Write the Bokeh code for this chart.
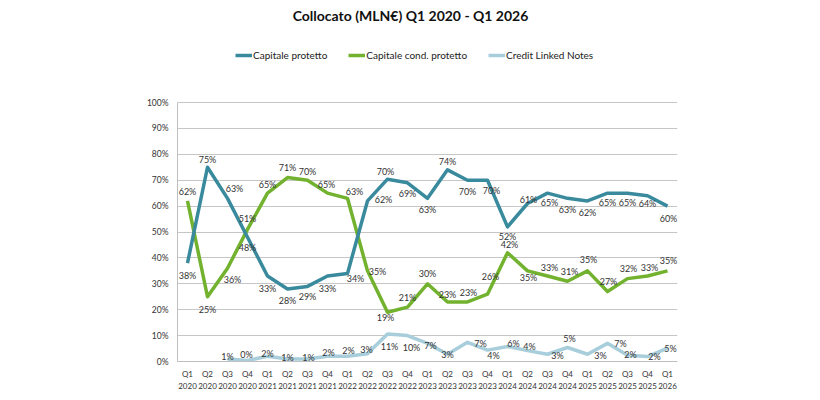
from bokeh.plotting import figure
from bokeh.models import (ColumnDataSource, FactorRange, Range1d, FixedTicker,
                          PrintfTickFormatter, Legend, LegendItem, Label)
from bokeh.core.properties import value
from bokeh.embed import file_html
from bokeh.resources import INLINE

quarters = ["Q1\n2020", "Q2\n2020", "Q3\n2020", "Q4\n2020",
            "Q1\n2021", "Q2\n2021", "Q3\n2021", "Q4\n2021",
            "Q1\n2022", "Q2\n2022", "Q3\n2022", "Q4\n2022",
            "Q1\n2023", "Q2\n2023", "Q3\n2023", "Q4\n2023",
            "Q1\n2024", "Q2\n2024", "Q3\n2024", "Q4\n2024",
            "Q1\n2025", "Q2\n2025", "Q3\n2025", "Q4\n2025",
            "Q1\n2026"]

capitale_protetto = [38, 75, 63, 48, 33, 28, 29, 33, 34, 62, 70.4, 69, 63,
                     74, 70, 70, 52, 61, 65, 63, 62, 65, 65, 64, 60]
capitale_cond_protetto = [62, 25, 36, 51, 65, 71, 70, 65, 63, 35, 19, 21, 30,
                          23, 23, 26, 42, 35, 33, 31, 35, 27, 32, 33, 35]
cln_quarters = quarters[2:]
credit_linked_notes = [1, 0.4, 2, 1, 1, 2, 2, 3, 10.6, 10, 7, 2.8, 7.4, 4.4,
                       5.8, 4.2, 2.8, 5.4, 2.8, 7, 2.4, 1.9, 5.2]

y_ticks = list(range(0, 101, 10))

# label placement (screen px offsets: dx, dy; dy positive = down)
cp_dx = [0, 0, 7, 0, 0, 0, 0, 0, 8, 16, -2, 0, 0, 0, 0, 4, 0, 1, 2, 0, 0, 0, 0, 0, 1]
cp_dy = [12, -8, -10, 10, 12, 12, 10, 12, 5, -1, -8, 11, 11, -8, 11, 10, 10, -4, 9, 11, 12, 9, 9, 8, 12]
cc_dx = [0, 0, 5, 0, 0, 0, 0, -1, 7, 10, -2, 0, 0, 0, 1, 3, 2, 1, 2, 2, 1, 1, 1, 2, 1]
cc_dy = [-9, 13, 11, -11, -9, -10, -9, -9, -7, 1, 5, -10, -10, -7, -9, -18, -8, 7, -9, -10, -11, -10, -10, -9, -10]
cl_dx = [0, -1, 0, 0, 1, 1, 1, -1, 2, 4, 3, 0, 13, 6, 6, 2, 10, 2, 13, 13, 3, 7, 3]
cl_dy = [-2, -6, -3, -1, -1, -4, -6, -4, 12, 12, 2, 0, 1, 5, -3, -4, 1, -9, 1, 0, -1, 0, 0]

BLUE = "#3A8A9E"
GREEN = "#72B22F"
LIGHT = "#A8CEDB"
FONT = "Lato"
TXT = "#333333"

# frame extends above 100% to host title and legend; axis/grid limited to 0-100
p = figure(frame_width=500, frame_height=361, output_backend="svg", toolbar_location=None,
           x_range=FactorRange(factors=quarters, range_padding=0),
           y_range=Range1d(0, 361 / 2.59),
           min_border_left=177, min_border_right=135,
           min_border_top=0, min_border_bottom=31)
p.outline_line_color = None
p.background_fill_color = "white"
p.border_fill_color = "white"

p.yaxis.ticker = FixedTicker(ticks=y_ticks)
p.yaxis.bounds = (0, 100)
p.yaxis.formatter = PrintfTickFormatter(format="%d%%")
p.yaxis.major_tick_line_color = None
p.yaxis.minor_tick_line_color = None
p.yaxis.major_tick_out = 0
p.yaxis.major_tick_in = 0
p.yaxis.minor_tick_out = 0
p.yaxis.axis_line_color = "#BFBFBF"
p.yaxis.major_label_text_font = FONT
p.yaxis.major_label_text_font_size = "8.5px"
p.yaxis.major_label_text_color = TXT
p.yaxis.major_label_standoff = 9

p.xaxis.major_tick_line_color = None
p.xaxis.minor_tick_line_color = None
p.xaxis.major_tick_out = 0
p.xaxis.major_tick_in = 0
p.xaxis.minor_tick_out = 0
p.xaxis.axis_line_color = "#BFBFBF"
p.xaxis.major_label_text_font = FONT
p.xaxis.major_label_text_font_size = "8px"
p.xaxis.major_label_text_color = TXT
p.xaxis.major_label_standoff = 7
p.xaxis.major_label_text_line_height = 1.2

p.xgrid.grid_line_color = None
p.ygrid.grid_line_color = "#C6C6C6"
p.ygrid.grid_line_width = 1

src_cp = ColumnDataSource(dict(x=quarters, y=capitale_protetto,
                               t=[f"{round(v)}%" for v in capitale_protetto],
                               dx=cp_dx, dy=cp_dy))
src_cc = ColumnDataSource(dict(x=quarters, y=capitale_cond_protetto,
                               t=[f"{round(v)}%" for v in capitale_cond_protetto],
                               dx=cc_dx, dy=cc_dy))
src_cl = ColumnDataSource(dict(x=cln_quarters, y=credit_linked_notes,
                               t=[f"{round(v)}%" for v in credit_linked_notes],
                               dx=cl_dx, dy=cl_dy))

r_cl = p.line("x", "y", source=src_cl, line_color=LIGHT, line_width=3.5, line_join="round")
r_cc = p.line("x", "y", source=src_cc, line_color=GREEN, line_width=3.5, line_join="round")
r_cp = p.line("x", "y", source=src_cp, line_color=BLUE, line_width=3.5, line_join="round")

for src in (src_cp, src_cc, src_cl):
    p.text("x", "y", text="t", source=src, x_offset="dx", y_offset="dy",
           text_font=value(FONT), text_font_size="9px", text_color=TXT,
           text_align="center", text_baseline="middle")

legend = Legend(items=[LegendItem(label="Capitale protetto", renderers=[r_cp]),
                       LegendItem(label="Capitale cond. protetto", renderers=[r_cc]),
                       LegendItem(label="Credit Linked Notes", renderers=[r_cl])],
                orientation="horizontal", location=(58, 300),
                glyph_width=17, glyph_height=10, label_standoff=1, spacing=21,
                padding=0, margin=0, border_line_color=None,
                background_fill_alpha=0, label_text_font=FONT,
                label_text_font_size="10px", label_text_color="#222222",
                label_height=12)
p.add_layout(legend, "center")

title = Label(x=12.5, y=133.6, x_offset=-17, text="Collocato (MLN€) Q1 2020 - Q1 2026",
              text_font=FONT, text_font_style="bold", text_font_size="14px",
              text_color="#111111", text_align="center", text_baseline="middle")
p.add_layout(title)

open("out.html", "w").write(file_html(p, INLINE))
